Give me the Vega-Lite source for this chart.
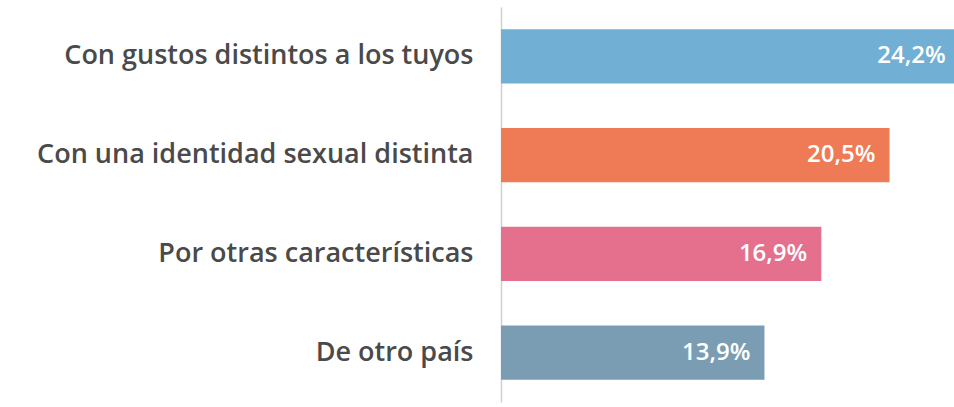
{
  "$schema": "https://vega.github.io/schema/vega-lite/v6.json",
  "width": 453,
  "height": 395,
  "autosize": {"type": "none"},
  "padding": {"left": 501, "top": 7, "right": 0, "bottom": 5},
  "background": "white",
  "config": {
    "view": {"stroke": null},
    "locale": {"number": {"decimal": ",", "thousands": ".", "grouping": [3], "currency": ["", " €"]}}
  },
  "data": {
    "values": [
      {"cat": "Con gustos distintos a los tuyos", "v": 0.242, "c": "#72afd4"},
      {"cat": "Con una identidad sexual distinta", "v": 0.205, "c": "#ee7b55"},
      {"cat": "Por otras características", "v": 0.169, "c": "#e4708e"},
      {"cat": "De otro país", "v": 0.139, "c": "#7b9db3"}
    ]
  },
  "encoding": {
    "y": {
      "field": "cat", "type": "nominal", "sort": null,
      "scale": {"paddingInner": 0.45, "paddingOuter": 0.225},
      "axis": {
        "title": null, "ticks": false, "labelPadding": 28,
        "labelFont": "Open Sans", "labelFontSize": 27, "labelFontWeight": 600,
        "labelColor": "#4a4a4a", "domainColor": "#d0d0d0", "domainWidth": 1.5,
        "labelLimit": 500
      }
    },
    "x": {
      "field": "v", "type": "quantitative",
      "scale": {"domain": [0, 0.239], "nice": false},
      "axis": null
    }
  },
  "layer": [
    {
      "mark": {"type": "bar", "clip": true},
      "encoding": {"color": {"field": "c", "type": "nominal", "scale": null}}
    },
    {
      "mark": {"type": "text", "align": "right", "dx": -14, "font": "Open Sans", "fontSize": 24, "fontWeight": 600, "color": "white", "clip": true},
      "encoding": {"text": {"field": "v", "type": "quantitative", "format": ".1%"}}
    }
  ]
}
